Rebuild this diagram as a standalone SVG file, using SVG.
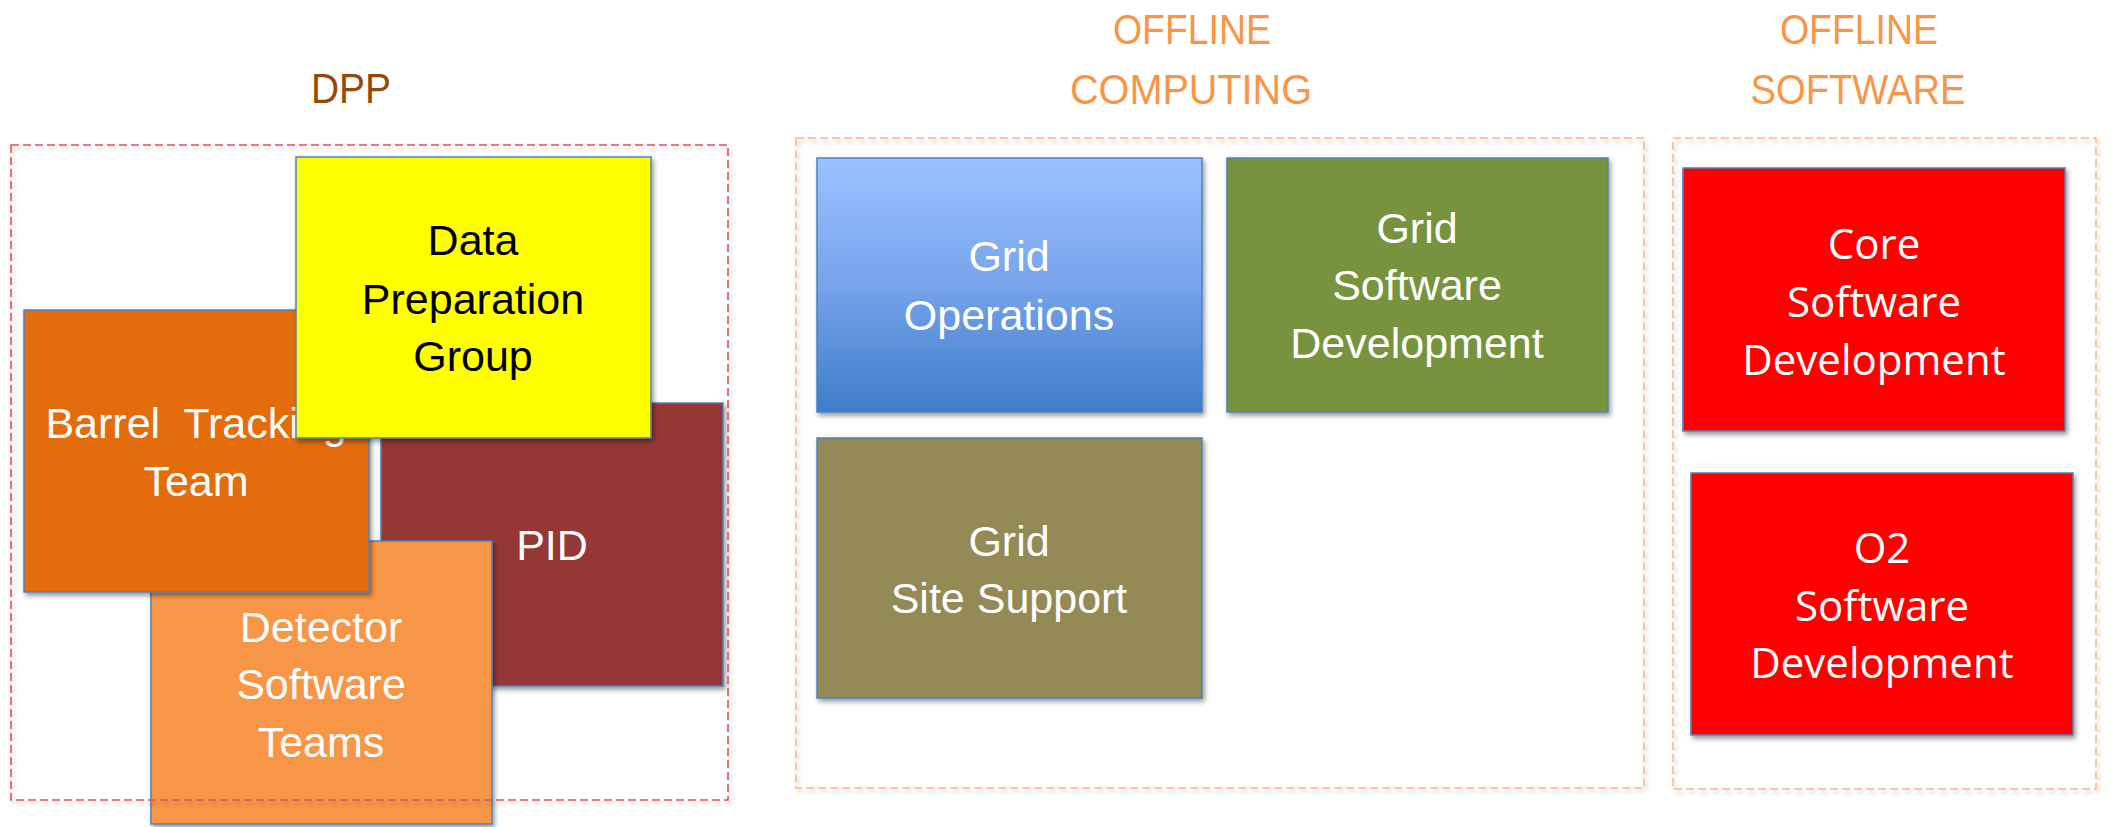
<svg xmlns="http://www.w3.org/2000/svg" width="2111" height="827" viewBox="0 0 2111 827">
<defs>
<filter id="sh" x="-10%" y="-10%" width="130%" height="130%">
<feDropShadow dx="2" dy="3" stdDeviation="2.5" flood-color="#000" flood-opacity="0.4"/>
</filter>
<filter id="shd" x="-5%" y="-5%" width="110%" height="110%">
<feDropShadow dx="2" dy="3" stdDeviation="2" flood-color="#000" flood-opacity="0.25"/>
</filter>
<linearGradient id="gOps" x1="0" y1="0" x2="0" y2="1">
<stop offset="0" stop-color="#9CC2FF"/>
<stop offset="0.5" stop-color="#76A3EA"/>
<stop offset="1" stop-color="#3E7DCB"/>
</linearGradient>
</defs>
<style>
.box{stroke:#4F81BD;stroke-width:1.5;filter:url(#sh)}
.t{font-family:"Liberation Sans",Arial,sans-serif;font-size:43px;text-anchor:middle}
.o{font-family:"Open Sans","Liberation Sans",sans-serif;font-size:42px;text-anchor:middle;fill:#fff}
.w{fill:#fff}
.title{font-family:"Liberation Sans",Arial,sans-serif;font-size:42px;text-anchor:middle;lengthAdjust:spacingAndGlyphs}
.dash{fill:none;stroke-width:1.6;stroke-dasharray:8 4;filter:url(#shd)}
</style>
<rect width="2111" height="827" fill="#fff"/>

<g id="titles">
<text class="title" x="351" y="103" fill="#984806" textLength="80" lengthAdjust="spacingAndGlyphs">DPP</text>
<text class="title" x="1192" y="44" fill="#F79646" textLength="158" lengthAdjust="spacingAndGlyphs">OFFLINE</text>
<text class="title" x="1191" y="104" fill="#F79646" textLength="242" lengthAdjust="spacingAndGlyphs">COMPUTING</text>
<text class="title" x="1859" y="44" fill="#F79646" textLength="158" lengthAdjust="spacingAndGlyphs">OFFLINE</text>
<text class="title" x="1858" y="104" fill="#F79646" textLength="215" lengthAdjust="spacingAndGlyphs">SOFTWARE</text>
</g>

<g id="pid">
<rect class="box" x="381" y="403" width="342" height="283" fill="#953735"/>
<text class="t w" x="552" y="560">PID</text>
</g>
<g id="detector-software-teams">
<rect class="box" x="151" y="541" width="341" height="283" fill="#F79646"/>
<text class="t w" x="321" y="642">Detector</text>
<text class="t w" x="321" y="699">Software</text>
<text class="t w" x="321" y="757">Teams</text>
</g>
<g id="barrel-tracking-team">
<rect class="box" x="24" y="310" width="345" height="282" fill="#E36C0A"/>
<text class="t w" x="196" y="438" xml:space="preserve" style="white-space:pre">Barrel  Tracking</text>
<text class="t w" x="196" y="496">Team</text>
</g>
<g id="data-preparation-group">
<rect class="box" x="296" y="157" width="355" height="281" fill="#FFFF00"/>
<text class="t" x="473" y="255" fill="#000">Data</text>
<text class="t" x="473" y="314" fill="#000">Preparation</text>
<text class="t" x="473" y="371" fill="#000">Group</text>
</g>
<g id="dpp">
<rect class="dash" x="11" y="145" width="717" height="655" stroke="#DC5459"/>
</g>

<g id="offline-computing">
<rect class="dash" x="796" y="138" width="848" height="650" stroke="#F9B88A"/>
</g>
<g id="grid-operations">
<rect class="box" x="817" y="158" width="385" height="254" fill="url(#gOps)"/>
<text class="t w" x="1009" y="271">Grid</text>
<text class="t w" x="1009" y="330">Operations</text>
</g>
<g id="grid-software-development">
<rect class="box" x="1227" y="158" width="381" height="254" fill="#77933C"/>
<text class="t w" x="1417" y="243">Grid</text>
<text class="t w" x="1417" y="300">Software</text>
<text class="t w" x="1417" y="358">Development</text>
</g>
<g id="grid-site-support">
<rect class="box" x="817" y="438" width="385" height="260" fill="#948A54"/>
<text class="t w" x="1009" y="556">Grid</text>
<text class="t w" x="1009" y="613">Site Support</text>
</g>

<g id="offline-software">
<rect class="dash" x="1673" y="138" width="423" height="651" stroke="#F9B88A"/>
</g>
<g id="core-software-development">
<rect class="box" x="1683" y="168" width="382" height="263" fill="#FF0000"/>
<text class="o" x="1874" y="259">Core</text>
<text class="o" x="1874" y="317">Software</text>
<text class="o" x="1874" y="375">Development</text>
</g>
<g id="o2-software-development">
<rect class="box" x="1691" y="473" width="382" height="262" fill="#FF0000"/>
<text class="o" x="1882" y="563">O2</text>
<text class="o" x="1882" y="621">Software</text>
<text class="o" x="1882" y="678">Development</text>
</g>

<g id="connectors"></g>
</svg>
